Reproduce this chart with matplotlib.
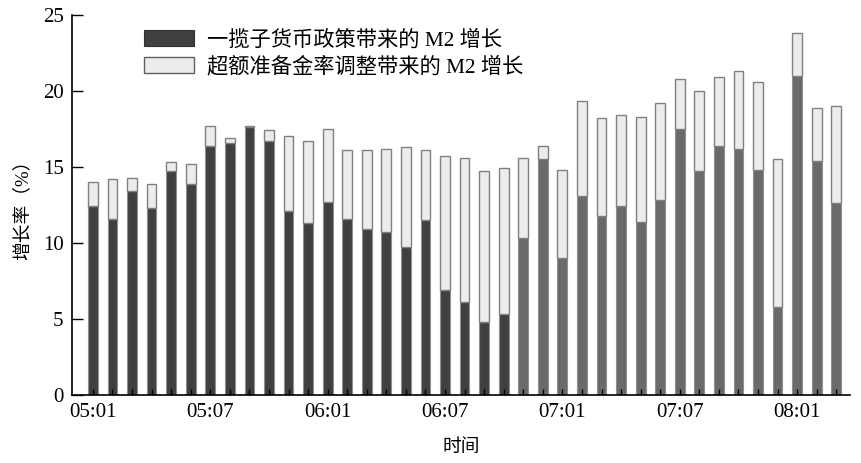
import matplotlib
matplotlib.use('Agg')
import matplotlib.pyplot as plt
import numpy as np

plt.rcParams['font.family'] = ['Liberation Serif', 'Noto Sans CJK SC']

months = ['05:01', '05:02', '05:03', '05:04', '05:05', '05:06', '05:07', '05:08', '05:09', '05:10',
          '05:11', '05:12', '06:01', '06:02', '06:03', '06:04', '06:05', '06:06', '06:07', '06:08',
          '06:09', '06:10', '06:11', '06:12', '07:01', '07:02', '07:03', '07:04', '07:05', '07:06',
          '07:07', '07:08', '07:09', '07:10', '07:11', '07:12', '08:01', '08:02', '08:03']

# 一揽子货币政策带来的 M2 增长 (bottom segment)
policy = [12.4, 11.6, 13.4, 12.3, 14.7, 13.9, 16.4, 16.6, 17.6, 16.7,
          12.1, 11.3, 12.7, 11.6, 10.9, 10.7, 9.7, 11.5, 6.9, 6.1,
          4.8, 5.3, 10.3, 15.5, 9.0, 13.1, 11.8, 12.4, 11.4, 12.8,
          17.5, 14.7, 16.4, 16.2, 14.8, 5.8, 21.0, 15.4, 12.6]

# total growth (top of each bar)
total = [14.0, 14.2, 14.3, 13.9, 15.3, 15.2, 17.7, 16.9, 17.7, 17.4,
         17.0, 16.7, 17.5, 16.1, 16.1, 16.2, 16.3, 16.1, 15.7, 15.6,
         14.7, 14.9, 15.6, 16.4, 14.8, 19.3, 18.2, 18.4, 18.3, 19.2,
         20.8, 20.0, 20.9, 21.3, 20.6, 15.5, 23.8, 18.9, 19.0]

# 超额准备金率调整带来的 M2 增长 (top segment)
reserve = [t - p for t, p in zip(total, policy)]

label_every = 6
split_idx = 22  # bottom segment turns lighter from 06:11 on


def plot_chart():
    x = np.arange(len(months))
    bottom_colors = ['#404040' if i < split_idx else '#6a6a6a' for i in x]

    fig = plt.figure(figsize=(8.62, 4.63), dpi=100)
    ax = fig.add_axes([0.0835, 0.147, 0.9025, 0.821])

    ax.bar(x, policy, width=0.5, color=bottom_colors, edgecolor='#909090', linewidth=0.8,
           label='一揽子货币政策带来的 M2 增长')
    ax.bar(x, reserve, width=0.5, bottom=policy, color='#ececec', edgecolor='#808080',
           linewidth=1.0, label='超额准备金率调整带来的 M2 增长')

    ax.set_xlim(-1.07, 38.7)
    ax.set_ylim(0, 25)
    ax.set_yticks(np.arange(0, 26, 5))
    ax.set_xticks(x)
    ax.set_xticklabels([m if i % label_every == 0 else '' for i, m in enumerate(months)])
    ax.tick_params(axis='y', direction='in', length=8, width=1, labelsize=15, pad=6)
    ax.tick_params(axis='x', direction='in', length=4, width=1, labelsize=15, pad=6)

    for s in ['top', 'right']:
        ax.spines[s].set_visible(False)
    for s in ['left', 'bottom']:
        ax.spines[s].set_linewidth(1.2)

    ax.set_ylabel('增长率（%）', fontsize=13.5, labelpad=8)
    ax.set_xlabel('时间', fontsize=13.5, labelpad=12)

    leg = ax.legend(loc='upper left', bbox_to_anchor=(0.068, 1.01), frameon=False, fontsize=15.3,
                    handlelength=2.35, handleheight=0.8, labelspacing=0.3, handletextpad=0.6)
    leg.legend_handles[0].set_facecolor('#404040')
    leg.legend_handles[0].set_edgecolor('#303030')
    leg.legend_handles[1].set_edgecolor('#606060')

    fig.savefig('out.png', dpi=100)


if __name__ == '__main__':
    plot_chart()
